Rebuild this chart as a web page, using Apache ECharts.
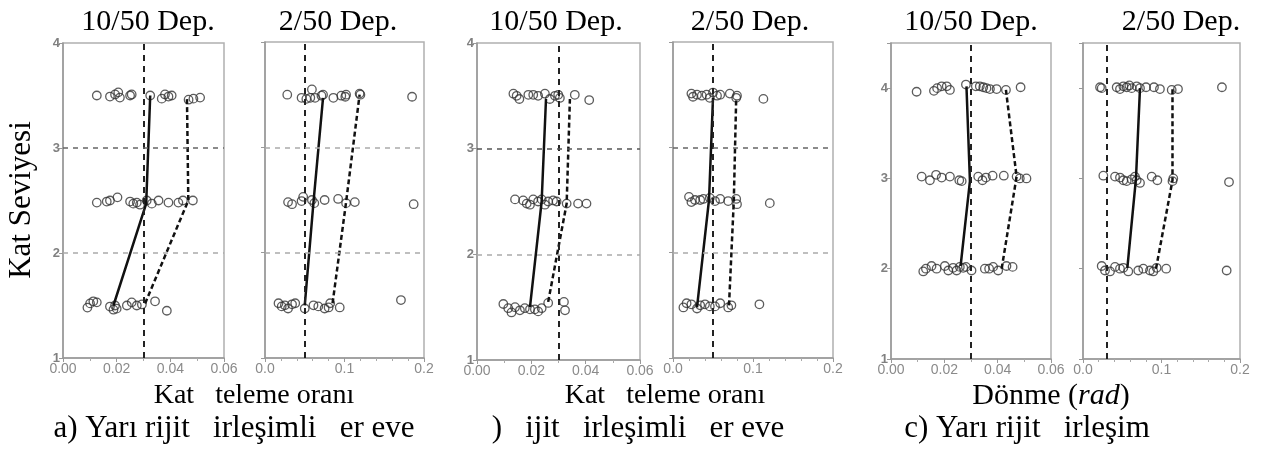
<!DOCTYPE html>
<html>
<head>
<meta charset="utf-8">
<script src="https://cdn.jsdelivr.net/npm/echarts@6/dist/echarts.min.js"></script>
<style>
html,body{margin:0;padding:0;background:#fff;}
#main{width:1263px;height:455px;}
</style>
</head>
<body>
<div id="main"></div>
<script>
// a) 10/50
var aPts1 = [[0.0126,3.50],[0.0175,3.49],[0.0194,3.51],[0.0206,3.53],[0.0212,3.48],[0.025,3.50],[0.0256,3.51],[0.0325,3.50],[0.0368,3.47],[0.038,3.51],[0.0393,3.49],[0.0405,3.50],[0.0468,3.46],[0.0486,3.47],[0.0511,3.48],
  [0.0126,2.48],[0.0163,2.49],[0.0175,2.50],[0.0203,2.53],[0.025,2.49],[0.0262,2.47],[0.0275,2.48],[0.0287,2.46],[0.0312,2.50],[0.0331,2.47],[0.0356,2.50],[0.0393,2.48],[0.043,2.48],[0.0447,2.50],[0.0484,2.50],
  [0.0091,1.48],[0.0101,1.52],[0.0113,1.54],[0.0126,1.53],[0.0175,1.49],[0.0188,1.46],[0.0194,1.50],[0.02,1.47],[0.0238,1.50],[0.0256,1.53],[0.0275,1.50],[0.0294,1.51],[0.0343,1.54],[0.0387,1.45]];
var aMed1 = [[0.0188,1.50],[0.031,2.47],[0.0325,3.50]];
var aUp1 = [[0.0306,1.52],[0.0467,2.50],[0.0462,3.47]];
// a) 2/50
var aPts2 = [[0.028,3.50],[0.046,3.47],[0.052,3.46],[0.057,3.47],[0.059,3.55],[0.063,3.47],[0.071,3.49],[0.073,3.50],[0.086,3.47],[0.096,3.49],[0.101,3.48],[0.102,3.50],[0.119,3.51],[0.12,3.50],[0.185,3.48],
  [0.029,2.48],[0.034,2.46],[0.046,2.49],[0.048,2.53],[0.059,2.50],[0.062,2.47],[0.075,2.50],[0.092,2.51],[0.102,2.47],[0.113,2.48],[0.187,2.46],
  [0.017,1.52],[0.021,1.49],[0.025,1.50],[0.029,1.47],[0.034,1.51],[0.038,1.52],[0.05,1.47],[0.061,1.50],[0.067,1.49],[0.075,1.47],[0.08,1.48],[0.082,1.52],[0.094,1.48],[0.171,1.55]];
var aMed2 = [[0.05,1.50],[0.061,2.48],[0.073,3.47]];
var aUp2 = [[0.085,1.52],[0.102,2.48],[0.119,3.50]];
// b) 10/50
var bPts1 = [[0.0134,3.52],[0.0146,3.50],[0.0156,3.47],[0.0189,3.51],[0.0207,3.51],[0.0225,3.50],[0.025,3.52],[0.0268,3.47],[0.0287,3.50],[0.0299,3.51],[0.0305,3.48],[0.036,3.51],[0.0413,3.46],
  [0.014,2.52],[0.017,2.51],[0.0183,2.48],[0.0195,2.47],[0.0207,2.52],[0.0225,2.50],[0.0238,2.52],[0.025,2.47],[0.0262,2.50],[0.028,2.51],[0.0293,2.50],[0.033,2.48],[0.0372,2.48],[0.0403,2.48],
  [0.0097,1.53],[0.0115,1.49],[0.0127,1.45],[0.014,1.50],[0.0158,1.47],[0.0176,1.49],[0.0195,1.48],[0.0213,1.48],[0.0225,1.46],[0.0238,1.49],[0.0262,1.54],[0.032,1.55],[0.0324,1.47]];
var bMed1 = [[0.0195,1.50],[0.0238,2.50],[0.0254,3.47]];
var bUp1 = [[0.0262,1.55],[0.033,2.48],[0.0342,3.47]];
// b) 2/50
var bPts2 = [[0.023,3.51],[0.025,3.48],[0.03,3.50],[0.036,3.49],[0.042,3.50],[0.046,3.47],[0.05,3.52],[0.055,3.49],[0.059,3.50],[0.071,3.51],[0.079,3.47],[0.08,3.49],[0.113,3.46],
  [0.02,2.53],[0.023,2.48],[0.0275,2.50],[0.034,2.50],[0.038,2.51],[0.046,2.52],[0.0525,2.49],[0.059,2.51],[0.069,2.49],[0.079,2.51],[0.08,2.46],[0.121,2.47],
  [0.013,1.48],[0.017,1.52],[0.023,1.51],[0.03,1.47],[0.034,1.50],[0.04,1.51],[0.046,1.49],[0.0525,1.49],[0.059,1.52],[0.069,1.48],[0.073,1.50],[0.108,1.51]];
var bMed2 = [[0.03,1.48],[0.045,2.50],[0.05,3.47]];
var bUp2 = [[0.07,1.50],[0.076,2.49],[0.079,3.47]];
// c) 10/50
var cPts1 = [[0.0096,3.96],[0.0161,3.97],[0.0173,4.00],[0.019,4.02],[0.0209,4.02],[0.0221,3.98],[0.0281,4.04],[0.0318,4.02],[0.0333,4.02],[0.0346,4.01],[0.0358,4.00],[0.0371,3.99],[0.0396,3.99],[0.0431,3.98],[0.0486,4.01],
  [0.0115,3.02],[0.0146,2.98],[0.0169,3.04],[0.019,3.01],[0.0221,3.02],[0.0256,2.98],[0.0265,2.97],[0.0327,3.02],[0.0343,2.98],[0.0356,3.01],[0.0381,3.03],[0.0423,3.03],[0.0471,3.02],[0.0483,3.00],[0.0508,3.00],
  [0.0121,1.97],[0.0131,2.00],[0.0152,2.03],[0.0171,2.00],[0.0202,2.03],[0.0215,1.98],[0.0233,2.01],[0.0246,1.98],[0.0258,2.02],[0.0271,2.01],[0.0281,2.02],[0.0302,1.98],[0.0352,2.00],[0.0368,2.00],[0.0383,2.02],[0.0402,1.98],[0.0433,2.03],[0.0456,2.02]];
var cMed1 = [[0.0261,2.03],[0.0296,2.97],[0.0283,4.02]];
var cUp1 = [[0.0415,2.00],[0.0471,3.02],[0.0431,3.98]];
// c) 2/50
var cPts2 = [[0.0217,4.01],[0.0238,4.00],[0.0429,4.01],[0.0471,3.99],[0.0514,4.02],[0.0557,4.01],[0.059,4.03],[0.062,4.00],[0.0684,4.02],[0.0726,4.00],[0.0803,4.01],[0.0904,4.01],[0.098,3.99],[0.113,3.98],[0.121,3.99],[0.177,4.01],
  [0.0259,3.03],[0.0408,3.02],[0.0471,3.01],[0.0514,2.98],[0.0557,2.97],[0.062,2.99],[0.0662,3.02],[0.0684,2.98],[0.0726,2.95],[0.0875,3.02],[0.0947,2.98],[0.114,2.97],[0.115,3.00],[0.186,2.96],
  [0.0238,2.03],[0.028,1.98],[0.0344,1.97],[0.0408,2.02],[0.0471,2.00],[0.0514,2.01],[0.0577,1.97],[0.0704,1.98],[0.0768,2.00],[0.0853,1.98],[0.0896,1.97],[0.0938,2.01],[0.106,2.00],[0.183,1.98]];
var cMed2 = [[0.0565,2.01],[0.0675,3.00],[0.0726,4.00]];
var cUp2 = [[0.093,2.00],[0.114,2.98],[0.114,3.99]];

var refX = [0.025, 0.05, 0.025, 0.05, 0.025, 0.032];
var xMaxs = [0.06, 0.2, 0.06, 0.2, 0.06, 0.2];
var yMaxs = [4, 4, 4, 4, 4.5, 4.5];
var hLines = [2, 3];

var pts = [aPts1, aPts2, bPts1, bPts2, cPts1, cPts2];
var meds = [aMed1, aMed2, bMed1, bMed2, cMed1, cMed2];
var ups = [aUp1, aUp2, bUp1, bUp2, cUp1, cUp2];

// layout
var rects = [
    {left: 63, top: 43, width: 161, height: 315},
    {left: 265, top: 42, width: 159, height: 316},
    {left: 477, top: 43, width: 163, height: 317},
    {left: 673, top: 42, width: 160, height: 316},
    {left: 891, top: 43, width: 160, height: 316},
    {left: 1083, top: 43, width: 157, height: 316}
];
var showYLabel = [true, false, true, false, true, false];
var hColor3 = ['#666', '#aaa', '#555', '#666', null, null];

var grids = [], xAxes = [], yAxes = [], series = [];
for (var i = 0; i < 6; i++) {
    var r = rects[i];
    grids.push({
        left: r.left, top: r.top, width: r.width, height: r.height,
        show: true, borderColor: '#b0b0b0', borderWidth: 1.5
    });
    var small = xMaxs[i] < 0.1;
    xAxes.push({
        gridIndex: i, type: 'value', min: 0, max: xMaxs[i],
        interval: small ? 0.02 : 0.1,
        axisLine: {lineStyle: {color: '#999', width: 1.5}},
        axisTick: {length: 4, lineStyle: {color: '#999'}},
        minorTick: {show: true, splitNumber: small ? 2 : 5, length: 3, lineStyle: {color: '#aaa'}},
        splitLine: {show: false},
        axisLabel: {
            color: '#8a8a8a', fontSize: 14, margin: 4, fontFamily: 'Liberation Sans',
            formatter: (function (s) {
                return function (v) { return v.toFixed(s ? 2 : 1); };
            })(small)
        }
    });
    yAxes.push({
        gridIndex: i, type: 'value', min: 1, max: yMaxs[i], interval: 1,
        axisLine: {show: true, lineStyle: {color: '#999', width: 1.5}},
        axisTick: {show: true, length: 4, lineStyle: {color: '#999'}},
        splitLine: {show: false},
        axisLabel: {
            show: showYLabel[i], color: '#808080', fontSize: 13, margin: 3,
            fontFamily: 'Liberation Sans', fontWeight: 'bold',
            formatter: function (v) { return v % 1 === 0 ? String(v) : ''; }
        }
    });

    var mlData = [{xAxis: refX[i], lineStyle: {color: '#222', width: 2, type: [6, 5]}}];
    if (hColor3[i]) {
        mlData.push({yAxis: hLines[0], lineStyle: {color: '#aaa', width: 1.5, type: [5, 5]}});
        mlData.push({yAxis: hLines[1], lineStyle: {color: hColor3[i], width: 1.5, type: [5, 5]}});
    }
    series.push({
        type: 'scatter', xAxisIndex: i, yAxisIndex: i,
        symbol: 'circle', symbolSize: 8.5,
        itemStyle: {color: 'rgba(0,0,0,0)', borderColor: '#333', borderWidth: 1.3},
        data: pts[i],
        markLine: {silent: true, symbol: 'none', label: {show: false}, data: mlData}
    });
    series.push({
        type: 'line', xAxisIndex: i, yAxisIndex: i, symbol: 'none',
        lineStyle: {color: '#111', width: 2.5},
        data: meds[i], z: 3
    });
    series.push({
        type: 'line', xAxisIndex: i, yAxisIndex: i, symbol: 'none',
        lineStyle: {color: '#111', width: 2.5, type: [5, 3]},
        data: ups[i], z: 3
    });
}

var serif = 'Liberation Serif';
var titleX = [148, 338, 556, 750, 971, 1181];
var titles = ['10/50 Dep.', '2/50 Dep.', '10/50 Dep.', '2/50 Dep.', '10/50 Dep.', '2/50 Dep.'];
var graphic = [];
for (var j = 0; j < 6; j++) {
    graphic.push({
        type: 'text', x: titleX[j], y: 22,
        style: {text: titles[j], font: '30px ' + serif, fill: '#000', align: 'center', verticalAlign: 'middle'}
    });
}
graphic.push({
    type: 'text', x: 22, y: 200, rotation: Math.PI / 2,
    style: {text: 'Kat Seviyesi', font: '31px ' + serif, fill: '#000', align: 'center', verticalAlign: 'middle'}
});
var bottom = [
    {x: 254, y: 396, t: 'Kat   teleme oranı', s: 28},
    {x: 234, y: 429, t: 'a) Yarı rijit   irleşimli   er eve', s: 31},
    {x: 665, y: 396, t: 'Kat   teleme oranı', s: 28},
    {x: 638, y: 429, t: ')   ijit   irleşimli   er eve', s: 31},
    {x: 1027, y: 429, t: 'c) Yarı rijit   irleşim', s: 31}
];
bottom.forEach(function (b) {
    graphic.push({
        type: 'text', x: b.x, y: b.y,
        style: {text: b.t, font: b.s + 'px ' + serif, fill: '#000', align: 'center', verticalAlign: 'middle'}
    });
});
graphic.push({
    type: 'text', x: 1051, y: 396,
    style: {
        text: 'Dönme ({i|rad})', font: '30px ' + serif, fill: '#000', align: 'center', verticalAlign: 'middle',
        rich: {i: {fontStyle: 'italic', fontSize: 30, fontFamily: serif}}
    }
});

var option = {
    animation: false,
    backgroundColor: '#fff',
    grid: grids,
    xAxis: xAxes,
    yAxis: yAxes,
    series: series,
    graphic: graphic
};

var myChart = echarts.init(document.getElementById('main'));
myChart.setOption(option, true);
</script>
</body>
</html>
